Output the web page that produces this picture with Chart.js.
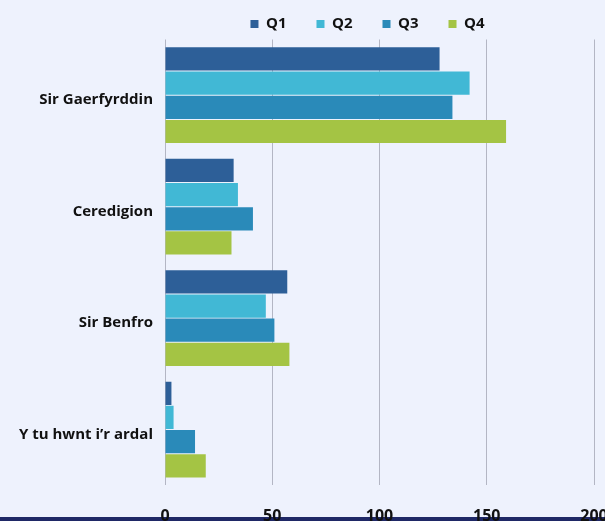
<!DOCTYPE html>
<html>
<head>
<meta charset="utf-8">
<script src="https://cdn.jsdelivr.net/npm/chart.js@4.4.0/dist/chart.umd.min.js"></script>
<style>
  html, body { margin: 0; padding: 0; background: #eef2fd; }
  #wrap { position: relative; width: 605px; height: 521px; overflow: hidden; background: #eef2fd; }
  #box { position: absolute; left: 0; top: 0; width: 640px; height: 552px; }
  #band { position: absolute; left: 0; bottom: 0; width: 605px; height: 4px; background: #1f2866; }
</style>
</head>
<body>
<div id="wrap">
  <div id="band"></div>
  <div id="box"><canvas id="chart"></canvas></div>
</div>
<script>
// dữ liệu
const areas = ['Sir Gaerfyrddin', 'Ceredigion', 'Sir Benfro', "Y tu hwnt i\u2019r ardal"];
const q1 = [128, 32, 57, 3];
const q2 = [142, 34, 47, 4];
const q3 = [134, 41, 51, 14];
const q4 = [159, 31, 58, 19];
const xTicks = [0, 50, 100, 150, 200];

const colours = ['#2d5f98', '#41b8d5', '#2a8ab9', '#a4c444'];
const font = 'Open Sans';

// chỉnh vị trí chú thích cho giống ảnh gốc
const shiftLegend = {
    id: 'shiftLegend',
    afterLayout(chart) {
        chart.legend.left -= 12;
        chart.legend.right -= 12;
        chart.legend.top += 2;
        chart.legend.bottom += 2;
    }
};

const ctx = document.getElementById('chart').getContext('2d');
new Chart(ctx, {
    type: 'bar',
    data: {
        labels: areas,
        datasets: [
            { label: 'Q1', data: q1, backgroundColor: colours[0] },
            { label: 'Q2', data: q2, backgroundColor: colours[1] },
            { label: 'Q3', data: q3, backgroundColor: colours[2] },
            { label: 'Q4', data: q4, backgroundColor: colours[3] }
        ]
    },
    options: {
        indexAxis: 'y',
        responsive: true,
        maintainAspectRatio: false,
        animation: false,
        categoryPercentage: 0.868,
        barPercentage: 0.96,
        layout: { padding: { top: -15.5, right: 46, bottom: 3.5, left: 0 } },
        plugins: {
            legend: {
                position: 'top',
                fullSize: false,
                labels: {
                    usePointStyle: true,
                    pointStyle: 'rect',
                    boxWidth: 8,
                    boxHeight: 8,
                    padding: 30,
                    color: '#111',
                    font: { family: font, size: 15, weight: 'bold' }
                }
            },
            tooltip: { enabled: false }
        },
        scales: {
            x: {
                min: 0,
                max: 200,
                afterBuildTicks: (scale) => { scale.ticks = xTicks.map(v => ({ value: v })); },
                grid: { color: '#b3b6c4', drawTicks: false },
                border: { display: false },
                ticks: {
                    padding: 22,
                    color: '#111',
                    font: { family: font, size: 16, weight: 'bold' }
                }
            },
            y: {
                afterFit: (scale) => { scale.width = 165; },
                grid: { display: false },
                border: { display: false },
                ticks: {
                    padding: 4,
                    labelOffset: 5,
                    color: '#111',
                    font: { family: font, size: 15, weight: 'bold' }
                }
            }
        }
    },
    plugins: [shiftLegend]
});
</script>
</body>
</html>
